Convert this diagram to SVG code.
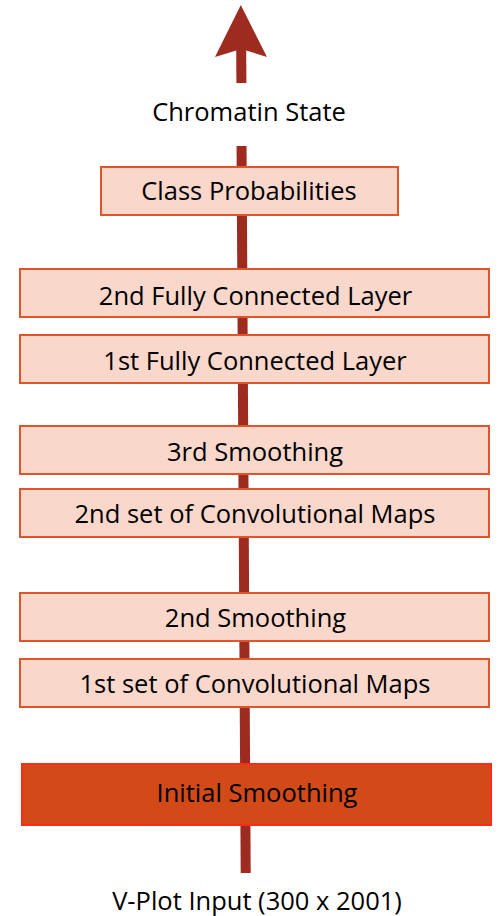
<svg xmlns="http://www.w3.org/2000/svg" width="499" height="916" viewBox="0 0 499 916">
<style>
.box{fill:#F9D7CB;stroke:#E0562A;stroke-width:2}
.hot{fill:#D24A18;stroke:#FF2A1A;stroke-width:2}
.shaft{stroke:#9E2B20;stroke-width:10;fill:none}
.head{fill:#9E2B20}
text{font-family:"Open Sans","Liberation Sans",Arial,sans-serif;font-size:25.5px;fill:#000;text-anchor:middle}
</style>
<rect width="499" height="916" fill="#fff"/>
<g id="connectors">
<line class="shaft" x1="241.2" y1="48" x2="241.4" y2="83"/>
<line class="shaft" x1="241.55" y1="146" x2="245.7" y2="873"/>
<polygon class="head" points="240.8,5 267,57 246.2,50.5 236.2,50.5 215,57"/>
</g>
<g id="output-label"><text x="249" y="121">Chromatin State</text></g>
<g id="class-prob"><rect class="box" x="101" y="167" width="297" height="48"/><text x="249" y="200">Class Probabilities</text></g>
<g id="fc2"><rect class="box" x="20" y="269" width="469" height="48"/><text x="255.5" y="305">2nd Fully Connected Layer</text></g>
<g id="fc1"><rect class="box" x="20" y="335" width="469" height="48"/><text x="255" y="370">1st Fully Connected Layer</text></g>
<g id="smooth3"><rect class="box" x="20" y="426" width="469" height="48"/><text x="255" y="461">3rd Smoothing</text></g>
<g id="conv2"><rect class="box" x="20" y="489" width="469" height="48"/><text x="255" y="523">2nd set of Convolutional Maps</text></g>
<g id="smooth2"><rect class="box" x="20" y="593" width="469" height="48"/><text x="255.5" y="627">2nd Smoothing</text></g>
<g id="conv1"><rect class="box" x="20" y="659" width="469" height="48"/><text x="255" y="693">1st set of Convolutional Maps</text></g>
<g id="smooth-init"><rect class="hot" x="22" y="764" width="469" height="61"/><text x="257" y="802">Initial Smoothing</text></g>
<g id="input-label"><text x="257" y="910">V-Plot Input (300 x 2001)</text></g>
</svg>
